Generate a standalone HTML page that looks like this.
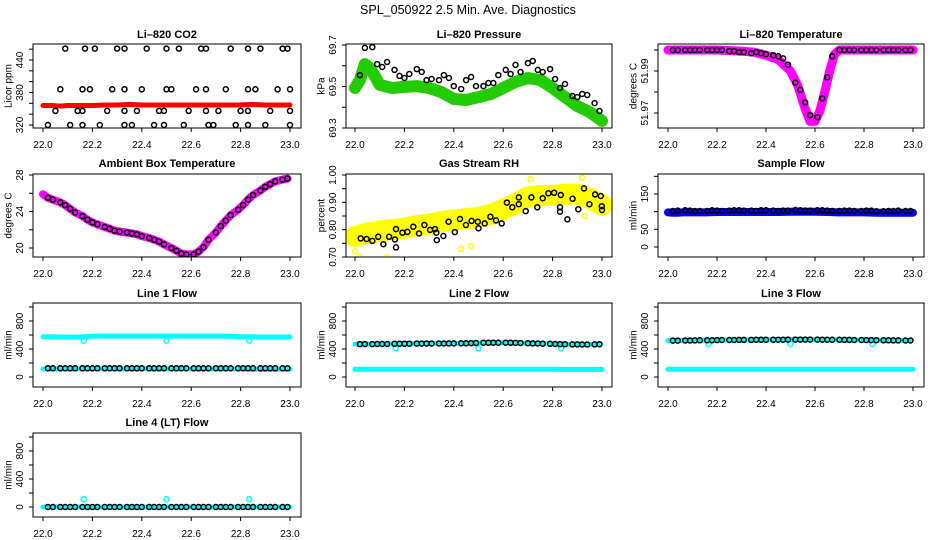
<!DOCTYPE html>
<html><head><meta charset="utf-8">
<style>
html,body{margin:0;padding:0;background:#fff;}
svg{display:block;font-family:"Liberation Sans",Arial,sans-serif;}
</style></head>
<body>
<svg id="chart" width="936" height="540" viewBox="0 0 936 540" xmlns="http://www.w3.org/2000/svg">
<text x="468" y="14" text-anchor="middle" font-size="12.5">SPL_050922  2.5 Min. Ave. Diagnostics</text>
</svg>
<script>
// ---- shared sample times (hours) ----
const times = [22.02,22.04,22.07,22.09,22.11,22.13,22.16,22.18,22.20,22.22,22.25,22.27,22.29,22.31,22.34,22.36,22.38,22.40,22.43,22.45,22.47,22.49,22.52,22.54,22.56,22.58,22.61,22.63,22.65,22.67,22.70,22.72,22.74,22.76,22.79,22.81,22.83,22.85,22.88,22.90,22.92,22.94,22.97,22.99];
const bandTimes = [22.0,22.02,22.04,22.06,22.08,22.1,22.15,22.2,22.25,22.3,22.35,22.4,22.45,22.5,22.55,22.6,22.65,22.7,22.75,22.8,22.85,22.9,22.95,23.0];
const xTicks = [22.0,22.2,22.4,22.6,22.8,23.0];

// CO2
const co2TopT = [22.09,22.17,22.21,22.30,22.33,22.42,22.50,22.55,22.64,22.66,22.76,22.83,22.88,22.97,22.99];
const co2MidT = [22.07,22.16,22.19,22.28,22.33,22.40,22.50,22.52,22.62,22.66,22.74,22.83,22.86,22.95,23.00];
const co2LowT = [22.05,22.14,22.16,22.26,22.33,22.38,22.47,22.49,22.59,22.66,22.71,22.80,22.83,22.92,23.00];
const co2BotT = [22.02,22.11,22.16,22.23,22.33,22.36,22.45,22.49,22.57,22.67,22.69,22.78,22.83,22.90,23.00];
const co2Levels = [461,386,346,320];
const co2Band = [356,356,356,355,355,356,356,356,357,357,358,357,357,357,357,357,357,357,357,357,358,357,357,357];

// Pressure
const presBlack = [69.555,69.686,69.690,69.608,69.594,69.618,69.580,69.551,69.541,69.560,69.584,69.570,69.531,69.536,69.531,69.555,69.541,69.502,69.488,69.531,69.546,69.502,69.502,69.517,69.517,69.555,69.580,69.560,69.604,69.570,69.613,69.623,69.580,69.570,69.584,69.536,69.493,69.512,69.454,69.449,69.464,69.459,69.420,69.382];
const presBand = [69.493,69.531,69.608,69.589,69.551,69.508,69.493,69.498,69.502,69.493,69.473,69.440,69.435,69.449,69.464,69.493,69.522,69.541,69.531,69.493,69.449,69.406,69.377,69.334];

// Li-820 temperature
const ltempBlack = [52.0,52.0,52.0,52.0,52.0,52.0,52.0,52.0,52.0,52.0,51.9995,51.9995,51.999,51.999,51.9985,51.999,51.9985,51.998,51.9975,51.997,51.996,51.993,51.9845,51.981,51.975,51.969,51.968,51.977,51.987,51.997,52.0,52.0,52.0,52.0,52.0,52.0,52.0,52.0,52.0,52.0,52.0,52.0,52.0,52.0];
const ltempBandT = [22.0,22.2,22.3,22.35,22.4,22.45,22.5,22.53,22.56,22.58,22.6,22.62,22.64,22.66,22.68,22.7,23.0];
const ltempBand = [52.0,52.0,51.9995,51.999,51.9975,51.9955,51.99,51.983,51.972,51.966,51.966,51.971,51.980,51.99,51.998,52.0,52.0];

// Ambient box temperature
const ambBlack = [25.5,25.3,25.0,24.7,24.3,23.9,23.5,23.1,22.8,22.6,22.3,22.1,21.9,21.8,21.7,21.6,21.5,21.3,21.1,20.9,20.7,20.4,20.0,19.7,19.4,19.3,19.3,19.6,20.1,20.9,21.7,22.4,23.0,23.6,24.2,24.7,25.3,25.8,26.3,26.7,27.0,27.3,27.5,27.6];

// Gas stream RH
const rhT = [22.023,22.047,22.070,22.094,22.115,22.138,22.162,22.166,22.166,22.192,22.212,22.236,22.259,22.281,22.304,22.324,22.329,22.331,22.358,22.379,22.404,22.425,22.449,22.472,22.497,22.500,22.525,22.548,22.571,22.594,22.615,22.637,22.663,22.663,22.691,22.714,22.738,22.760,22.783,22.806,22.830,22.830,22.833,22.860,22.881,22.904,22.927,22.949,22.972,22.995,22.999,23.000];
const rhV = [0.768,0.766,0.759,0.774,0.747,0.774,0.764,0.802,0.735,0.789,0.792,0.811,0.786,0.817,0.799,0.802,0.789,0.762,0.777,0.829,0.791,0.839,0.817,0.832,0.829,0.805,0.823,0.847,0.834,0.823,0.899,0.882,0.893,0.918,0.868,0.918,0.882,0.915,0.933,0.935,0.882,0.866,0.927,0.838,0.913,0.875,0.951,0.893,0.929,0.923,0.886,0.872];
const rhBand = [0.775,0.78,0.785,0.79,0.79,0.795,0.80,0.805,0.815,0.82,0.83,0.835,0.84,0.845,0.855,0.875,0.895,0.92,0.925,0.925,0.93,0.93,0.915,0.89];
const rhOutT = [22.0,22.02,22.13,22.43,22.47,22.71,22.92,22.93];
const rhOutV = [0.72,0.70,0.70,0.73,0.74,0.985,0.99,0.85];

// Sample flow
const sampBlack = [102,103,104,103,102,102,102,104,103,102,103,104,104,103,103,102,104,104,103,102,103,103,105,104,103,103,104,104,103,102,102,103,103,102,102,103,103,101,101,102,102,103,102,102];
const sampBand = [98,97,97,98,98,98,98,99,99,99,99,99,99,100,100,100,99,98,98,98,97,97,97,97];

// Line flows
const l1Black = [125,125,125,125,125,125,125,125,125,125,125,125,125,125,125,125,125,125,125,125,125,125,125,125,125,125,125,125,125,125,125,125,125,125,125,125,125,125,125,125,125,125,125,125];
const l1Hi = [575,575,575,572,572,570,572,585,585,585,585,585,585,585,585,585,585,585,585,575,575,572,572,572];
const l1Lo = [115,115,115,115,115,115,115,115,115,115,115,115,115,115,115,115,115,115,115,115,112,110,110,110];
const l2Black = [470,470,470,472,472,472,475,475,475,476,477,477,478,478,478,479,480,480,481,482,484,486,488,489,490,490,490,488,487,486,483,480,478,476,475,472,470,468,466,465,464,464,466,468];
const l2Lo = [110,110,110,110,110,110,110,110,110,110,110,110,110,110,110,110,110,110,110,110,108,108,108,108];
const l3Black = [520,520,521,522,523,524,525,526,527,528,528,529,530,530,530,531,531,532,532,533,533,534,534,534,534,534,534,533,533,532,531,530,530,529,528,527,527,526,525,524,523,523,522,522];
const l3Lo = [110,110,110,110,110,110,110,110,110,110,110,110,110,110,110,110,110,110,110,110,110,110,110,110];
const l4Black = [0,0,0,0,0,0,0,0,0,0,0,0,0,0,0,0,0,0,0,0,0,0,0,0,0,0,0,0,0,0,0,0,0,0,0,0,0,0,0,0,0,0,0,0];
const l4Lo = [0,0,0,0,0,0,0,0,0,0,0,0,0,0,0,0,0,0,0,0,0,0,0,0];
const dipT = [22.165,22.5,22.835];
const l1Dip = [520,520,520];
const l2Dip = [410,410,410];
const l3Dip = [470,470,470];
const l4Dip = [112,112,112];

const NS = "http://www.w3.org/2000/svg";
const svg = document.getElementById('chart');
function mk(tag, attrs, parent){ const e=document.createElementNS(NS,tag); for(const k in attrs) e.setAttribute(k,attrs[k]); (parent||svg).appendChild(e); return e; }

const cols = [{l:33,r:301,x0:43,x1:290,yl:9},{l:346,r:612,x0:355,x1:602,yl:322},{l:658,r:924,x0:668,x1:913,yl:634}];
const rows = [{t:44,b:128,ty:38},{t:174,b:257,ty:167},{t:303,b:387,ty:297},{t:433,b:517,ty:426}];

function panel(name, title, ylab, c, r, yv0, yp0, yv1, yp1, yticks, ylabels){
  const col=cols[c], row=rows[r];
  const g = mk('g',{});
  
  
  const sx = v => col.x0 + (v-22)*(col.x1-col.x0);
  const sy = v => yp0 + (v-yv0)*(yp1-yp0)/(yv1-yv0);
  const t = mk('text',{x:(col.l+col.r)/2,y:row.ty,'text-anchor':'middle','font-size':11,'font-weight':'bold'},g);
  t.textContent = title;
  
  
  const yl = mk('text',{x:col.yl,y:(row.t+row.b)/2,'text-anchor':'middle','font-size':10,transform:`rotate(-90 ${col.yl} ${(row.t+row.b)/2})`,'dominant-baseline':'central'},g);
  yl.textContent = ylab;
  
  
  const plot = mk('g',{},g);
  
  
  const ax = mk('g',{stroke:'#000','stroke-width':1},g);
  
  
  mk('rect',{x:col.l,y:row.t,width:col.r-col.l,height:row.b-row.t,fill:'none'},ax);
  xTicks.forEach(v=>{
    const x=sx(v);
    mk('line',{x1:x,x2:x,y1:row.b,y2:row.b+4},ax);
    const tl=mk('text',{x:x,y:row.b+20,'text-anchor':'middle','font-size':10,stroke:'none'},g);
    tl.textContent=v.toFixed(1);
    
    
  });
  yticks.forEach(v=>{
    const y=sy(v);
    mk('line',{x1:col.l-4,x2:col.l,y1:y,y2:y},ax);
  });
  ylabels.forEach(lab=>{
    const y=sy(parseFloat(lab)); const x=col.l-10;
    const tl=mk('text',{x:x,y:y,'text-anchor':'middle','font-size':10,transform:`rotate(-90 ${x} ${y})`},g);
    tl.textContent=lab;
    
    
  });
  const clipId='clip-'+name;
  const cp=mk('clipPath',{id:clipId},g); mk('rect',{x:col.l,y:row.t,width:col.r-col.l,height:row.b-row.t},cp);
  plot.setAttribute('clip-path',`url(#${clipId})`);
  return {sx,sy,plot};
}
function band(p, ts, vs, color, w, name){
  const pts = ts.map((t,i)=>p.sx(t).toFixed(1)+','+p.sy(vs[i]).toFixed(1)).join(' ');
  const e=mk('polyline',{points:pts,fill:'none',stroke:color,'stroke-width':w,'stroke-linejoin':'round','stroke-linecap':'round'},p.plot);
  
  
}
function dots(p, ts, vs, color, name, r, sw){
  ts.forEach((t,i)=>{
    const e=mk('circle',{cx:p.sx(t).toFixed(1),cy:p.sy(vs[i]).toFixed(1),r:r||2.5,fill:'none',stroke:color,'stroke-width':sw||1.5},p.plot);
    
    
  });
}
function rng(a,b,s){const o=[];for(let v=a;v<=b+1e-9;v+=s)o.push(+v.toFixed(4));return o;}

// Panel 1 CO2
let p = panel('co2','Li\u2013820 CO2','Licor ppm',0,0,320,125,440,60,rng(320,460,20),['320','380','440']);
band(p,bandTimes,co2Band,'#ff0000',5,'co2-licor-band');
[co2TopT,co2MidT,co2LowT,co2BotT].forEach((arr,k)=>dots(p,arr,arr.map(()=>co2Levels[k]),'#000','co2-reference-point'));

// Panel 2 Pressure
p = panel('pressure','Li\u2013820 Pressure','kPa',1,0,69.3,128,69.7,45,rng(69.3,69.7,0.1),['69.3','69.5','69.7']);
band(p,bandTimes,presBand,'#22cc00',12,'pressure-licor-band');
dots(p,times,presBlack,'#000','pressure-point');

// Panel 3 Li temp
p = panel('licor-temp','Li\u2013820 Temperature','degrees C',2,0,52.0,50,51.99,71,[51.97,51.98,51.99,52.0],['51.97','51.99']);
band(p,ltempBandT,ltempBand,'#ff00ff',9,'licor-temp-band');
dots(p,times,ltempBlack,'#000','licor-temp-point');

// Panel 4 Ambient
p = panel('ambient-temp','Ambient Box Temperature','degrees C',0,1,20,248,28,175,rng(20,28,2),['20','24','28']);
band(p,[22.0].concat(times),[25.9].concat(ambBlack),'#ff00ff',8,'ambient-temp-band');
dots(p,times,ambBlack,'#000','ambient-temp-point');

// Panel 5 RH
p = panel('rh','Gas Stream RH','percent',1,1,0.70,257,1.00,175,rng(0.70,1.00,0.05),['0.70','0.80','0.90','1.00']);
band(p,bandTimes,rhBand,'#ffff00',21,'rh-band');
dots(p,rhOutT,rhOutV,'#ffff00','rh-outlier-point');
dots(p,rhT,rhV,'#000','rh-point');

// Panel 6 Sample flow
p = panel('sample-flow','Sample Flow','ml/min',2,1,0,247,150,194,rng(0,200,50),['0','50','150']);
band(p,bandTimes,sampBand,'#0000ee',8,'sample-flow-band');
dots(p,times,sampBlack,'#000','sample-flow-point');

// Panel 7 Line 1
p = panel('line1-flow','Line 1 Flow','ml/min',0,2,0,377,800,321,rng(0,1000,200),['0','400','800']);
band(p,bandTimes,l1Hi,'#00ffff',5,'line1-upper-band');
band(p,bandTimes,l1Lo,'#00ffff',5,'line1-lower-band');
dots(p,dipT,l1Dip,'#00ffff','line1-dip-point');
dots(p,times,l1Black,'#000','line1-point');

// Panel 8 Line 2
p = panel('line2-flow','Line 2 Flow','ml/min',1,2,0,377,800,321,rng(0,1000,200),['0','400','800']);
band(p,[22.0].concat(times),[470].concat(l2Black),'#00ffff',5,'line2-upper-band');
band(p,bandTimes,l2Lo,'#00ffff',5,'line2-lower-band');
dots(p,dipT,l2Dip,'#00ffff','line2-dip-point');
dots(p,times,l2Black,'#000','line2-point');

// Panel 9 Line 3
p = panel('line3-flow','Line 3 Flow','ml/min',2,2,0,377,800,321,rng(0,1000,200),['0','400','800']);
band(p,[22.0].concat(times),[520].concat(l3Black),'#00ffff',5,'line3-upper-band');
band(p,bandTimes,l3Lo,'#00ffff',5,'line3-lower-band');
dots(p,dipT,l3Dip,'#00ffff','line3-dip-point');
dots(p,times,l3Black,'#000','line3-point');

// Panel 10 Line 4
p = panel('line4-flow','Line 4 (LT) Flow','ml/min',0,3,0,507,800,451,rng(0,1000,200),['0','400','800']);
band(p,bandTimes,l4Lo,'#00ffff',5,'line4-band');
dots(p,dipT,l4Dip,'#00ffff','line4-dip-point');
dots(p,times,l4Black,'#000','line4-point');
</script>
</body></html>
